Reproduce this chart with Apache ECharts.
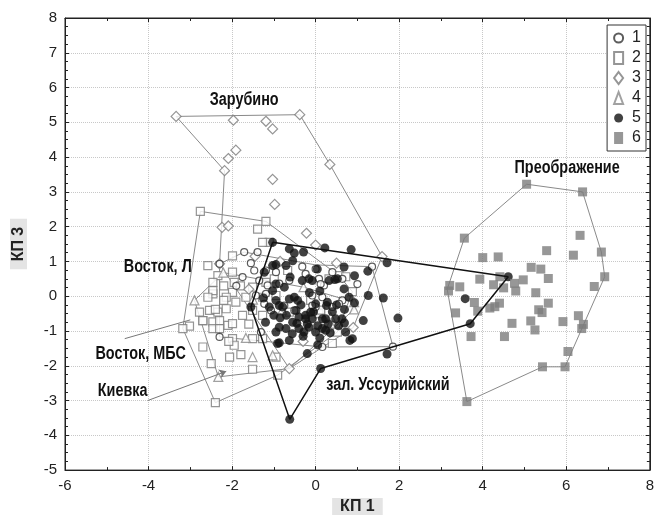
<!DOCTYPE html>
<html>
<head>
<meta charset="UTF-8">
<title>КП 1 / КП 3</title>
<script src="https://cdn.jsdelivr.net/npm/echarts@6/dist/echarts.min.js"></script>
<style>
    html, body { margin: 0; padding: 0; background: #fff; }
    #main { width: 657px; height: 520px; }
</style>
</head>
<body>
<div id="main"></div>
<script type="text/javascript">
// точки групп (КП 1, КП 3)
var g1 = [[-1.71,1.27],[-1.39,1.27],[-2.30,0.93],[-1.47,0.74],[-1.19,0.74],[-0.95,0.69],[-1.75,0.55],[-1.35,0.45],
    [-1.15,0.31],[-0.87,0.36],[-0.63,0.45],[-1.19,0.07],[-1.43,0.02],[-0.24,0.64],[0.00,0.78],[0.08,0.50],[0.40,0.69],
    [0.64,0.50],[-1.23,-0.22],[-1.07,-0.41],[-0.75,-0.27],[-0.51,-0.41],[0.00,-0.31],[0.16,-0.03],[-0.08,0.02],
    [0.40,-0.31],[0.64,-0.12],[-2.30,-1.17],[-1.31,-1.03],[0.16,-1.46],[-0.32,0.85],[0.20,0.31],[-0.08,-0.27],
    [0.56,-0.22],[0.12,0.35],[1.85,-1.45],[-1.55,0.95],[-1.9,0.3],[1.0,0.35],[1.35,0.85]];
var g2 = [[-2.76,2.44],[-1.19,2.15],[-1.39,1.93],[-1.99,1.16],[-2.58,0.88],[-1.11,1.55],[-1.27,1.55],[-2.46,0.07],
    [-2.34,0.59],[-2.46,0.40],[-1.99,0.69],[-1.95,0.40],[-2.46,0.16],[-2.58,-0.03],[-2.78,-0.46],[-2.54,-0.41],
    [-2.34,-0.46],[-2.14,-0.36],[-1.91,-0.17],[-1.67,-0.03],[-1.99,0.11],[-2.14,-0.03],[-2.70,-0.70],[-2.46,-0.74],
    [-2.30,-0.70],[-2.10,-0.84],[-1.99,-0.79],[-1.75,-0.55],[-1.51,-0.41],[-1.27,-0.55],[-2.46,-0.93],[-2.30,-0.93],
    [-3.02,-0.86],[-3.18,-0.93],[-1.99,-1.22],[-1.95,-1.41],[-2.70,-1.46],[-2.06,-1.75],[-1.79,-1.68],[-1.51,-1.22],
    [-1.27,-1.22],[-0.95,-1.75],[-2.50,-1.94],[-1.51,-2.10],[-0.91,-2.27],[-2.40,-3.06],[-1.51,0.26],[-1.19,0.40],
    [-1.27,-0.03],[-0.99,0.50],[-0.95,0.02],[-0.12,-0.12],[0.12,-0.46],[0.56,0.59],[0.88,0.13],[0.08,-0.50],
    [0.52,-1.03],[0.40,-1.36],[0.32,0.50],[0.72,0.56],[-0.67,0.74],[-0.63,-0.46],[0.12,-0.40],[-2.70,-0.70],
    [-2.08,-1.30],[-2.40,-0.38],[-2.20,-0.12],[-1.60,-0.80],[-1.80,0.30],[-2.20,0.30]];
var g3 = [[-3.34,5.17],[-1.97,5.06],[-1.19,5.03],[-1.03,4.81],[-0.38,5.22],[-1.91,4.20],[-2.09,3.96],[-2.18,3.61],
    [0.34,3.79],[-1.03,3.36],[-0.98,2.64],[-2.24,1.98],[-2.09,2.02],[-0.22,1.81],[0.00,1.47],[1.59,1.14],[-2.30,0.93],
    [-0.63,-2.08],[-1.45,1.15],[-0.85,1.00],[0.50,0.95],[-1.60,0.20],[0.90,-0.90],[-0.30,-1.30]];
var g4 = [[-2.90,-0.12],[-2.21,0.68],[-2.33,-2.32],[-1.51,-1.75],[-1.03,-1.70],[-1.67,-1.20],[0.92,-0.38],
    [0.36,-0.60],[0.36,-0.79],[0.92,-0.17],[-0.29,0.26],[-1.50,-0.10],[-0.80,-0.40]];
var g5 = [[-1.03,1.55],[-0.63,1.36],[-0.29,1.27],[-0.51,1.24],[0.22,1.39],[0.85,1.34],[1.71,0.96],[1.25,0.72],
    [0.68,0.84],[0.93,0.59],[0.32,0.45],[0.46,0.48],[1.26,0.02],[1.62,-0.05],[0.80,-0.03],[0.93,-0.19],[0.69,-0.38],
    [0.26,-0.27],[0.24,-0.65],[1.14,-0.70],[1.97,-0.63],[0.69,-0.77],[0.82,-1.27],[1.71,-1.66],[3.58,-0.07],
    [4.61,0.56],[3.70,-0.79],[0.12,-2.08],[0.16,-0.93],[-0.20,-1.65],[-0.87,-1.34],[-0.63,-1.27],[-0.62,-3.54],
    [-0.55,1.02],[-0.95,0.91],[-0.71,0.88],[0.04,0.78],[-0.61,0.55],[-0.32,0.45],[-0.16,0.50],[-0.08,0.45],
    [0.52,0.50],[-0.95,0.35],[-0.75,0.26],[-1.03,0.16],[0.68,0.21],[-0.51,-0.03],[-0.43,-0.12],[-0.95,-0.12],
    [0.00,-0.22],[0.28,-0.17],[-1.11,-0.31],[-0.79,-0.31],[-0.47,-0.41],[-0.12,-0.46],[-0.24,-0.65],[-0.40,-0.60],
    [0.63,-0.65],[-0.87,-0.27],[-0.63,-0.08],[-0.24,-0.55],[-0.08,-0.65],[0.16,-0.65],[-0.40,-0.93],[-0.16,-0.89],
    [0.00,-1.03],[-0.56,-1.08],[-0.71,-0.93],[-0.87,-0.89],[-0.95,-1.03],[-0.28,-1.03],[0.24,-0.98],[0.48,-0.65],
    [0.72,-1.03],[0.88,-1.22],[-0.91,-1.36],[-1.55,-0.31],[-1.23,0.69],[-1.03,0.88],[-0.20,-0.80],[-0.55,-0.75],
    [0.05,-0.85],[-0.35,-0.25],[0.40,-0.45],[-0.70,-0.55],[-0.30,-1.15],[0.10,-1.20],[0.35,-1.05],[0.55,-0.85],
    [-0.05,-0.45],[0.30,-0.80],[-0.45,-0.78],[-0.85,-0.62],[0.50,-0.25],[-0.15,0.10],[0.10,0.15],[-1.25,-0.05],
    [-1.20,-0.75],[-1.00,-0.55],[0.05,-1.40]];
var g6 = [[5.05,3.22],[6.39,3.00],[3.56,1.67],[6.33,1.75],[6.84,1.27],[6.92,0.56],[5.53,1.31],[6.17,1.18],
    [4.00,1.11],[4.37,1.13],[5.16,0.83],[5.39,0.78],[5.57,0.51],[4.41,0.56],[3.93,0.49],[4.97,0.47],[4.76,0.37],
    [3.21,0.31],[3.45,0.27],[4.26,0.33],[4.50,0.24],[4.79,0.15],[3.18,0.15],[6.67,0.28],[5.27,0.10],[3.80,-0.18],
    [4.40,-0.20],[5.57,-0.20],[3.35,-0.48],[3.88,-0.43],[4.17,-0.34],[4.29,-0.30],[5.34,-0.39],[5.42,-0.47],
    [6.29,-0.56],[5.15,-0.71],[5.92,-0.73],[6.41,-0.81],[6.37,-0.93],[4.70,-0.78],[5.25,-0.97],[3.72,-1.16],
    [4.52,-1.16],[6.04,-1.59],[5.43,-2.03],[5.97,-2.03],[3.62,-3.03]];

// контуры групп
var hull1 = [[-1.71,1.27],[0.00,0.90],[1.35,0.85],[1.85,-1.45],[0.16,-1.46],[-2.30,-1.17],[-2.30,0.93]];
var hull2 = [[-2.76,2.44],[-1.19,2.15],[0.56,0.59],[0.88,0.13],[0.52,-1.03],[-0.91,-2.27],[-2.40,-3.06],[-3.18,-0.93]];
var hull3 = [[-3.34,5.17],[-0.38,5.22],[0.34,3.79],[1.59,1.14],[0.90,-0.90],[-0.63,-2.08],[-2.30,0.93],[-2.18,3.61]];
var hull4 = [[-2.90,-0.12],[-2.21,0.68],[-0.29,0.26],[0.92,-0.17],[0.92,-0.38],[-0.63,-2.08],[-2.33,-2.32]];
var hull5 = [[-1.03,1.55],[4.61,0.56],[3.70,-0.79],[0.12,-2.08],[-0.62,-3.54],[-1.55,-0.31]];
var hull6 = [[3.62,-3.03],[3.15,0.20],[3.56,1.67],[5.05,3.22],[6.39,3.00],[6.84,1.27],[6.92,0.56],[5.97,-2.03],[5.43,-2.03]];

// подписи
var labelNames = ['Зарубино', 'Преображение', 'Восток, Л', 'Восток, МБС', 'Киевка', 'зал. Уссурийский'];
var labelX = [-1.71, 6.02, -3.78, -4.19, -4.62, 1.73];
var labelY = [5.65, 3.70, 0.84, -1.65, -2.74, -2.54];
var pointerMBS = [[-4.57, -1.22], [-3.00, -0.68]];
var pointerKiev = [[-4.02, -3.00], [-2.14, -2.16]];

function closed(h) { return h.concat([h[0]]); }

var myChart = echarts.init(document.getElementById('main'));

var numFont = '"Liberation Sans", Arial, sans-serif';

function hullSeries(h, color, width) {
    return {
        type: 'line', data: closed(h), symbol: 'none', silent: true, z: 1,
        lineStyle: {color: color, width: width}
    };
}

function frameAxis(pos, min, max, interval, split) {
    return {
        type: 'value', position: pos, min: min, max: max, interval: interval,
        axisLine: {show: true, onZero: false, lineStyle: {color: '#222'}},
        axisTick: {show: true, inside: true, length: 4, lineStyle: {color: '#222'}},
        minorTick: {show: true, splitNumber: split, length: 3, lineStyle: {color: '#222'}},
        axisLabel: {show: false}, splitLine: {show: false}
    };
}

var series = [
    hullSeries(hull1, '#8a8a8a', 1),
    hullSeries(hull2, '#8a8a8a', 1),
    hullSeries(hull3, '#8a8a8a', 1),
    hullSeries(hull4, '#8a8a8a', 1),
    hullSeries(hull6, '#8a8a8a', 1),
    {name: '2', type: 'scatter', data: g2, symbol: 'rect', symbolSize: 8, z: 3,
        itemStyle: {color: '#fff', borderColor: '#7a7a7a', borderWidth: 1.2}},
    {name: '4', type: 'scatter', data: g4, symbol: 'triangle', symbolSize: 9, z: 3,
        itemStyle: {color: '#fff', borderColor: '#8a8a8a', borderWidth: 1.2}},
    {name: '3', type: 'scatter', data: g3, symbol: 'diamond', symbolSize: 10, z: 3,
        itemStyle: {color: '#fff', borderColor: '#7a7a7a', borderWidth: 1.2}},
    {name: '1', type: 'scatter', data: g1, symbol: 'circle', symbolSize: 7, z: 4,
        itemStyle: {color: '#fff', borderColor: '#333', borderWidth: 1.2}},
    {name: '5', type: 'scatter', data: g5, symbol: 'circle', symbolSize: 9, z: 5,
        itemStyle: {color: '#111'}},
    {name: '6', type: 'scatter', data: g6, symbol: 'rect', symbolSize: 9, z: 5,
        itemStyle: {color: '#7d7d7d'}},
    {type: 'line', data: closed(hull5), symbol: 'none', silent: true, z: 6,
        lineStyle: {color: '#111', width: 1.5}},
    {type: 'lines', coordinateSystem: 'cartesian2d', silent: true, z: 6,
        symbol: ['none', 'none'],
        lineStyle: {color: '#777', width: 1, opacity: 1},
        data: [{coords: pointerMBS}]},
    {type: 'lines', coordinateSystem: 'cartesian2d', silent: true, z: 6,
        symbol: ['none', 'arrow'], symbolSize: 7,
        lineStyle: {color: '#777', width: 1, opacity: 1},
        data: [{coords: pointerKiev}]}
];

var xMain = frameAxis('bottom', -6, 8, 2, 2);
xMain.name = 'КП 1';
xMain.nameLocation = 'middle';
xMain.nameGap = 27;
xMain.nameTextStyle = {fontFamily: numFont, fontWeight: 'bold', fontSize: 16, color: '#222',
    backgroundColor: '#e4e4e4', padding: [1, 8, 0, 8]};
xMain.axisLabel = {show: true, fontFamily: numFont, fontSize: 15, color: '#222', margin: 8};
xMain.splitLine = {show: true, lineStyle: {color: '#c8c8c8', type: 'dotted'}};

var yMain = frameAxis('left', -5, 8, 1, 4);
yMain.name = 'КП 3';
yMain.nameLocation = 'middle';
yMain.nameGap = 38;
yMain.nameRotate = 90;
yMain.nameTextStyle = {fontFamily: numFont, fontWeight: 'bold', fontSize: 16, color: '#222',
    backgroundColor: '#e4e4e4', padding: [1, 8, 0, 8]};
yMain.axisLabel = {show: true, fontFamily: numFont, fontSize: 15, color: '#222', margin: 8};
yMain.splitLine = {show: true, lineStyle: {color: '#c8c8c8', type: 'dotted'}};

myChart.setOption({
    animation: false,
    backgroundColor: '#fff',
    grid: {left: 65, right: 5, top: 18, bottom: 48, show: true, borderColor: '#222', borderWidth: 1},
    legend: {
        data: ['1', '2', '3', '4', '5', '6'],
        orient: 'vertical', right: 11, top: 25,
        backgroundColor: '#fff', borderColor: '#333', borderWidth: 1,
        padding: [5, 5, 5, 6], itemGap: 4, itemWidth: 9, itemHeight: 12,
        textStyle: {fontFamily: numFont, fontSize: 16, color: '#222', padding: [0, 0, 0, 4]}
    },
    xAxis: [xMain, frameAxis('top', -6, 8, 2, 2)],
    yAxis: [yMain, frameAxis('right', -5, 8, 1, 4)],
    series: series
});

// подписи групп: узкий жирный шрифт, позиция через шкалы графика
myChart.setOption({
    graphic: labelNames.map(function (n, i) {
        var p = myChart.convertToPixel({gridIndex: 0}, [labelX[i], labelY[i]]);
        return {
            type: 'text', x: p[0], y: p[1], scaleX: 0.8, z: 20, silent: true,
            style: {text: n, font: 'bold 18px "Liberation Sans", Arial, sans-serif', fill: '#111',
                textAlign: 'center', textVerticalAlign: 'middle'}
        };
    })
});
</script>
</body>
</html>
